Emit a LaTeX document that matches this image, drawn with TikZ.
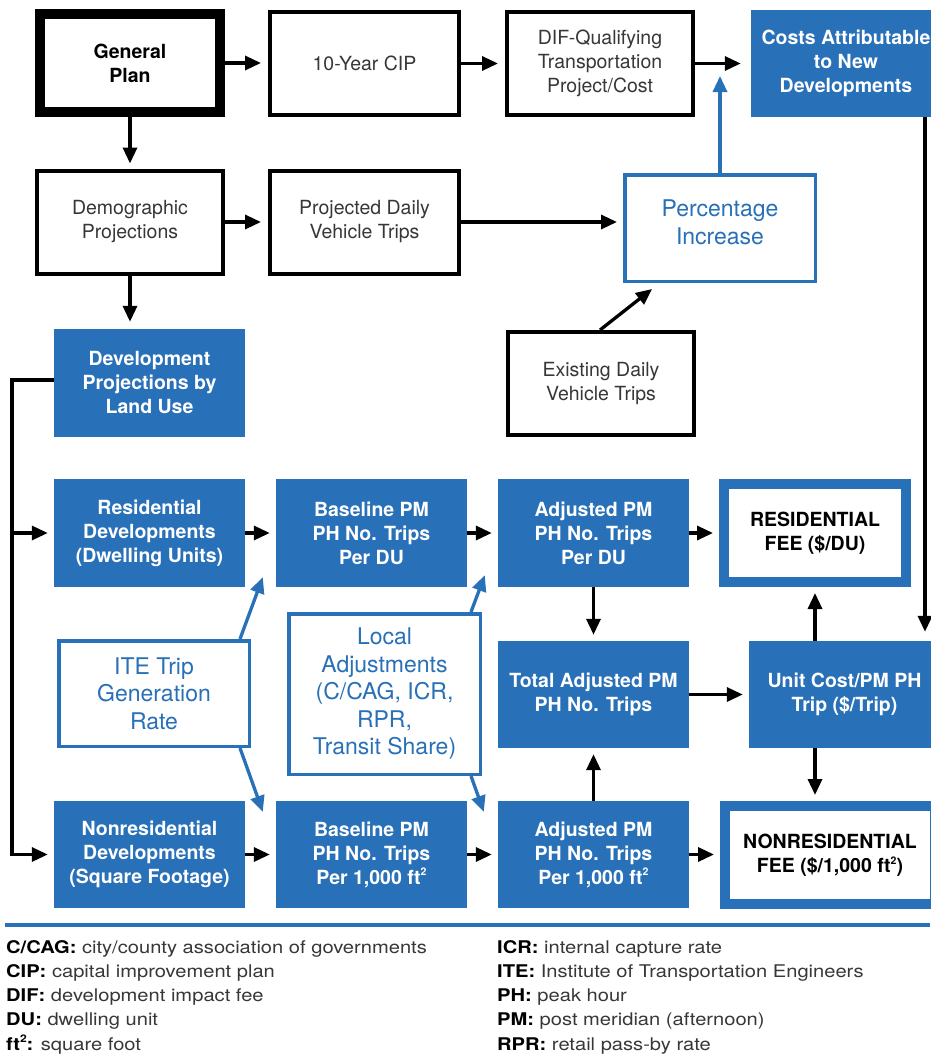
\documentclass[tikz,border=0pt]{standalone}
\usepackage{fontspec}
\setmainfont{TeX Gyre Heros}
\newfontfamily\legendfont[FakeStretch=1.15]{TeX Gyre Heros}
\usetikzlibrary{arrows.meta,calc}
\definecolor{dblue}{RGB}{40,112,184}
\definecolor{ink}{RGB}{55,55,55}
\newcommand\lterm[1]{\textcolor{black}{\bfseries #1}}
% small raised "2" for square feet
\newcommand\sqr{\raisebox{0.42em}{\fontsize{10.5}{10.5}\selectfont 2}}
\begin{document}
\begin{tikzpicture}[x=1pt,y=-1pt,
  every node/.style={inner sep=0pt, align=center},
  plainbox/.style={draw=black, line width=4pt, fill=white, minimum width=186pt,
    minimum height=103pt, text=ink, font=\fontsize{19.5}{24}\selectfont},
  solidbox/.style={fill=dblue, minimum width=191pt, minimum height=108pt,
    text=white, font=\bfseries\fontsize{19.5}{24}\selectfont},
  feebox/.style={draw=dblue, line width=10pt, fill=white, minimum height=98pt,
    text=black, font=\bfseries\fontsize{19.5}{24}\selectfont},
  inputbox/.style={draw=dblue, line width=3.5pt, fill=white, text=dblue,
    font=\fontsize{23}{27.5}\selectfont},
  arr/.style={line width=3.3pt, -{Triangle[length=16pt,width=14pt]}, shorten >=7pt},
  barr/.style={arr, draw=dblue, shorten >=0pt},
  legend/.style={anchor=base west, text=ink, font=\legendfont\fontsize{17.5}{24}\selectfont}
]
\useasboundingbox (0,0) rectangle (930,1055);
\fill[white] (0,0) rectangle (930,1055);

% top row
\node[plainbox, line width=10pt, minimum width=180pt, minimum height=98pt,
  text=black, font=\bfseries\fontsize{19.5}{24}\selectfont] (gp) at (130,63) {General\\Plan};
\node[plainbox, minimum width=189pt] (cip) at (364.5,63.5) {10-Year CIP};
\node[plainbox] (dif) at (600,63.5) {DIF-Qualifying\\Transportation\\Project/Cost};
\node[solidbox, minimum width=190pt, minimum height=107pt] (costs) at (846,63.5)
  {Costs Attributable\\to New\\Developments};

% second row
\node[plainbox] (demo) at (130,222) {Demographic\\Projections};
\node[plainbox, minimum width=189pt] (proj) at (364.5,222) {Projected Daily\\Vehicle Trips};
\node[inputbox, minimum width=190.5pt, minimum height=106.5pt, text depth=12pt] (pct) at (720,228)
  {Percentage\\Increase};

% third row
\node[solidbox] (dev) at (149.5,383) {Development\\Projections by\\Land Use};
\node[plainbox] (exist) at (601,383.5) {Existing Daily\\Vehicle Trips};

% residential row
\node[solidbox] (res) at (149.5,533) {Residential\\Developments\\(Dwelling Units)};
\node[solidbox] (baseR) at (371.5,533) {Baseline PM\\PH No. Trips\\Per DU};
\node[solidbox] (adjR) at (593.5,533) {Adjusted PM\\PH No. Trips\\Per DU};
\node[feebox, minimum width=182pt] (feeR) at (815,533) {RESIDENTIAL\\FEE (\$/DU)};

% middle row
\node[inputbox, minimum width=190.5pt, minimum height=105.5pt] (ite) at (154,693.5)
  {ITE Trip\\Generation\\Rate};
\node[inputbox, minimum width=191.5pt, minimum height=160.5pt] (local) at (384.5,694)
  {Local\\Adjustments\\(C/CAG, ICR,\\RPR,\\Transit Share)};
\node[solidbox, minimum height=107pt] (total) at (593.5,694.5) {Total Adjusted PM\\PH No. Trips};
\node[solidbox, minimum height=107pt] (unit) at (844.5,694.5) {Unit Cost/PM PH\\Trip (\$/Trip)};

% nonresidential row
\node[solidbox, minimum height=107pt] (nonres) at (149.5,854.5)
  {Nonresidential\\Developments\\(Square Footage)};
\node[solidbox, minimum height=107pt] (baseN) at (371.5,854.5)
  {Baseline PM\\PH No. Trips\\Per 1,000 ft\sqr};
\node[solidbox, minimum height=107pt] (adjN) at (593.5,854.5)
  {Adjusted PM\\PH No. Trips\\Per 1,000 ft\sqr};
\node[feebox, minimum width=210pt] (feeN) at (830,855)
  {NONRESIDENTIAL\\FEE (\$/1,000 ft\sqr)};

% helper points
\coordinate (pcttip) at (720,76);
\coordinate (extip) at (652,289);
\coordinate (bus) at (12,380);
\coordinate (rail) at (925,0);
\coordinate (iteUp) at ($(baseR.south west)+(-13,-10)$);
\coordinate (iteDn) at ($(baseN.north west)+(-13,11)$);
\coordinate (locUp) at ($(adjR.south west)+(-13,-12)$);
\coordinate (locDn) at ($(adjN.north west)+(-14,11)$);

% black connectors
\draw[arr] (gp.east) -- (gp.east -| cip.west);
\draw[arr] (cip.east) -- (cip.east -| dif.west);
\draw[arr, shorten >=10pt] (dif.east) -- (dif.east -| costs.west);
\draw[arr, shorten >=5pt] (gp.south) -- (gp.south |- demo.north);
\draw[arr] (demo.east) -- (demo.east -| proj.west);
\draw[arr, shorten >=6pt] (proj.east) -- (proj.east -| pct.west);
\draw[arr] (demo.south) -- (demo.south |- dev.north);
\draw[arr, shorten >=0pt] ($(exist.north)+(-1,0)$) -- (extip);
\draw[arr, shorten >=6pt] (dev.west |- bus) -- (bus) |- (nonres.west);
\draw[arr, shorten >=6pt] (bus |- res.west) -- (res.west);
\draw[arr, shorten >=6pt] (res.east) -- (baseR.west);
\draw[arr, shorten >=6pt] (baseR.east) -- (adjR.west);
\draw[arr, shorten >=6pt] (adjR.east) -- (adjR.east -| feeR.west);
\draw[arr, shorten >=6pt] (nonres.east) -- (baseN.west);
\draw[arr, shorten >=6pt] (baseN.east) -- (adjN.west);
\draw[arr, shorten >=6pt] (adjN.east) -- (adjN.east -| feeN.west);
\draw[arr, shorten >=6pt] (adjR.south) -- (total.north);
\draw[arr, shorten >=6pt] (adjN.north) -- (total.south);
\draw[arr, shorten >=6pt] (total.east) -- (total.east -| unit.west);
\draw[arr, shorten >=6pt] (unit.north -| feeR.south) -- (feeR.south);
\draw[arr, shorten >=6pt] (unit.south -| feeR.south) -- (feeN.north -| feeR.south);
\draw[arr, shorten >=9pt] (costs.south -| rail) -- (unit.north -| rail);

% blue connectors
\draw[barr] (pct.north) -- (pcttip);
\draw[barr] ($(ite.north east)+(-11,0)$) -- (iteUp);
\draw[barr] ($(ite.south east)+(-11,0)$) -- (iteDn);
\draw[barr] ($(local.north east)+(-11,0)$) -- (locUp);
\draw[barr] ($(local.south east)+(-11,0)$) -- (locDn);

% legend
\draw[dblue, line width=4pt] (5,925) -- (930,925);
\node[legend] (l1) at (6,953) {\lterm{C/CAG:} city/county association of governments};
\node[legend] (l2) at (6,977.3) {\lterm{CIP:} capital improvement plan};
\node[legend] (l3) at (6,1001.6) {\lterm{DIF:} development impact fee};
\node[legend] (l4) at (6,1025.9) {\lterm{DU:} dwelling unit};
\node[legend] (l5) at (6,1050.2) {\lterm{ft\sqr:} square foot};
\node[legend] (r1) at (497,953) {\lterm{ICR:} internal capture rate};
\node[legend] (r2) at (497,977.3) {\lterm{ITE:} Institute of Transportation Engineers};
\node[legend] (r3) at (497,1001.6) {\lterm{PH:} peak hour};
\node[legend] (r4) at (497,1025.9) {\lterm{PM:} post meridian (afternoon)};
\node[legend] (r5) at (497,1050.2) {\lterm{RPR:} retail pass-by rate};
\end{tikzpicture}
\end{document}
